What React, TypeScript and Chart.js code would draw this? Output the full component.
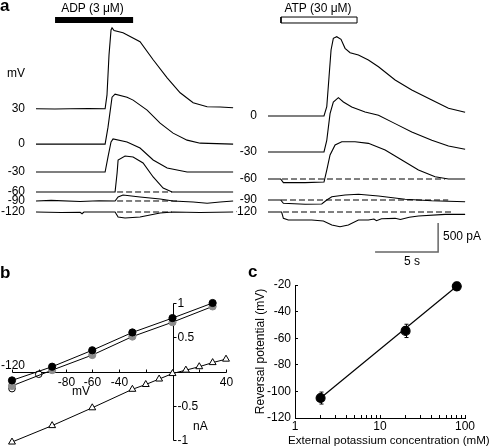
import React, { useEffect, useRef } from 'react';
import { Chart, registerables } from 'chart.js';

Chart.register(...registerables);

const FONT = '"Liberation Sans", Arial, Helvetica, sans-serif';
Chart.defaults.font.family = FONT;
Chart.defaults.font.size = 12;
Chart.defaults.color = '#000';

// ================= Panel a: current traces =================
const traceTimeMax = 15.7; // s shown in each trace panel
const tracePAMin = -414; // pA, display range of the stacked traces
const tracePAMax = 3724;

// ADP (3 uM) — [time (s), current (pA) relative to baseline]
const adpHolding = ['30', '0', '-30', '-60', '-90', '-120'];
const adpOffsets = [2090, 1480, 1000, 655, 500, 310];
const adp30 = [[0, 0], [1.5, -5], [2.7, 0], [4.2, 5], [5.48, 0], [5.63, 240], [5.79, 930], [5.95, 1360], [6.03, 1396], [6.19, 1350], [6.9, 1310], [8.25, 1155], [9.29, 845], [10.4, 534], [11.43, 276], [12.46, 103], [13.57, 34], [14.6, 30], [15.63, 17]];
const adp0 = [[0, 0], [5.48, 0], [5.71, 293], [6.03, 810], [6.27, 862], [7.22, 810], [7.7, 759], [8.81, 586], [9.84, 362], [10.87, 190], [11.98, 69], [13.02, 17], [15.63, 0]];
const adpM30 = [[0, 0], [5.48, 0], [5.71, 259], [5.95, 517], [6.11, 569], [7.22, 517], [8.25, 414], [9.29, 207], [10.4, 69], [11.98, 0], [15.63, 0]];
const adpM60 = [[0, 0], [6.27, 0], [6.43, 328], [6.51, 552], [7.06, 621], [7.7, 603], [8.49, 500], [9.29, 259], [10.08, 69], [10.79, 0], [15.63, 0]];
const adpM90 = [[0, 0], [1.2, 10], [3.5, -10], [5.0, 5], [6.27, 0], [6.51, 69], [6.9, 103], [8.25, 69], [9.84, 34], [10.87, 0], [12.46, -17], [13.57, -40], [14.6, -17], [15.63, 0]];
const adpM120 = [[0, 0], [2.0, -8], [3.5, -5], [3.65, -30], [3.8, 0], [6.27, 0], [6.51, -86], [7.06, -103], [8.25, -86], [9.84, -17], [10.87, 0], [13.0, -8], [15.63, 0]];
const adpTraces = [adp30, adp0, adpM30, adpM60, adpM90, adpM120];
const adpDashIdx = [3, 4, 5];
const adpDashFrom = [6.43, 6.43, 6.43];
const adpDashTo = [10.79, 11.43, 10.79];
const adpApplication = [1.51, 7.7]; // s

// ATP (30 uM)
const atpHolding = ['0', '-30', '-60', '-90', '-120'];
const atpOffsets = [1965, 1345, 879, 517, 310];
const atp0 = [[0, 0], [4.44, 0], [4.66, 160], [4.84, 678], [5.0, 1138], [5.18, 1340], [5.45, 1367], [5.79, 1322], [6.11, 1167], [6.51, 1091], [7.17, 1052], [7.96, 965], [8.76, 850], [10.08, 621], [11.4, 448], [12.99, 276], [14.31, 133], [15.63, 64]];
const atpM30 = [[0, 0], [4.44, 0], [4.66, 201], [4.92, 661], [5.18, 862], [5.58, 937], [5.98, 862], [6.64, 776], [7.7, 690], [8.76, 632], [10.08, 489], [11.4, 345], [12.99, 201], [14.31, 103], [15.63, 46]];
const atpM60 = [[0, 0], [1.0, 0], [1.22, -63], [2.94, -63], [4.44, -52], [4.66, 155], [4.92, 414], [5.32, 586], [5.85, 643], [6.9, 643], [7.96, 615], [9.29, 500], [10.61, 328], [11.93, 155], [13.25, 40], [14.31, 0], [15.63, 0]];
const atpM90 = [[0, 0], [1.0, 0], [1.22, -57], [2.94, -74], [4.26, -69], [4.66, 0], [5.06, 57], [6.11, 86], [7.17, 98], [8.76, 69], [10.87, 12], [12.99, -12], [15.63, -29]];
const atpM120 = [[0, 0], [1.08, 0], [1.22, -109], [1.61, -138], [3.47, -138], [4.39, -155], [5.06, -224], [5.71, -253], [6.37, -224], [7.17, -138], [7.96, -138], [8.4, -120], [8.6, -150], [9.0, -115], [10.08, -109], [10.5, -130], [11.2, -90], [11.93, -69], [14.05, -40], [15.63, -40]];
const atpTraces = [atp0, atpM30, atpM60, atpM90, atpM120];
const atpDashIdx = [2, 3, 4];
const atpDashFrom = [1.11, 1.03, 1.19];
const atpDashTo = [14.05, 14.29, 14.52];
const atpApplication = [1.03, 7.06]; // s

const applicationBarPA = [3569, 3672];
const scaleBarSeconds = 5;
const scaleBarPA = 500;
const scaleBarOrigin = [8.49, -379];

// ================= Panel b: I–V relations =================
const ivVm = [-120, -90, -60, -30, 0, 30];
const ivBlack = [-0.13, 0.07, 0.31, 0.57, 0.78, 1.0];
const ivGray = [-0.21, 0.02, 0.24, 0.51, 0.72, 0.95];
const ivOpenVm = [-120, -100];
const ivOpen = [-0.25, -0.04];
const ivTriVm = [-120, -90, -60, -30, -20, -10, 0, 10, 20, 30, 40];
const ivTri = [-1.03, -0.79, -0.53, -0.26, -0.19, -0.11, -0.03, 0.02, 0.07, 0.13, 0.18];
const ivXTicks = [-120, -100, -80, -60, -40, -20, 20, 40];
const ivXLabels = [-80, -60, -40, 40];
const ivXLabelsAbove = [-120];
const ivYTicks = [-1, -0.5, 0.5, 1];
const ivYLabels = ['-1', '-0.5', '0.5', '1'];

// ================= Panel c: reversal potential =================
const revK = [2, 20, 80]; // mM
const revE = [-105, -54.5, -21]; // mV
const revErr = [4.5, 5, 3];
const revFitK = [2, 80];
const revFitE = [-105, -21];
const revXTicks = [1, 2, 3, 4, 5, 6, 7, 8, 9, 10, 20, 30, 40, 50, 60, 70, 80, 90, 100];
const revXLabels = [1, 10, 100];

// ---------------------------------------------------------------
const baseOptions = {
  animation: false,
  responsive: false,
  maintainAspectRatio: false,
  events: [],
  plugins: { legend: { display: false }, tooltip: { enabled: false } },
};

function line(data: any[], extra: any = {}) {
  return {
    data,
    borderColor: '#000',
    borderWidth: 1.1,
    pointRadius: 0,
    pointHoverRadius: 0,
    tension: 0,
    fill: false,
    ...extra,
  };
}

function buildTraceConfig(p: any) {
  const datasets: any[] = [];
  p.traces.forEach((tr: number[][], i: number) =>
    datasets.push(line(tr.map(([t, v]) => ({ x: t, y: p.offsets[i] + v }))))
  );
  p.dashIdx.forEach((k: number, j: number) =>
    datasets.push(
      line(
        [
          { x: p.dashFrom[j], y: p.offsets[k] },
          { x: p.dashTo[j], y: p.offsets[k] },
        ],
        { borderDash: [6, 3], borderWidth: 1 }
      )
    )
  );
  const [b0, b1] = applicationBarPA;
  const [a0, a1] = p.app;
  if (p.filled) {
    const mid = (b0 + b1) / 2;
    datasets.push(line([{ x: a0, y: mid }, { x: a1, y: mid }], { borderWidth: 6, borderCapStyle: 'butt' }));
  } else {
    datasets.push(
      line(
        [
          { x: a0, y: b0 },
          { x: a1, y: b0 },
          { x: a1, y: b1 },
          { x: a0, y: b1 },
          { x: a0, y: b0 },
        ],
        { borderWidth: 1, borderJoinStyle: 'miter' }
      )
    );
  }
  if (p.scaleBar) {
    const [t0, y0] = scaleBarOrigin;
    datasets.push(
      line(
        [
          { x: t0, y: y0 },
          { x: t0 + scaleBarSeconds, y: y0 },
          { x: t0 + scaleBarSeconds, y: y0 + scaleBarPA },
        ],
        { borderColor: '#666', borderWidth: 1.5, borderJoinStyle: 'miter' }
      )
    );
  }
  return {
    type: 'line',
    data: { datasets },
    options: {
      ...baseOptions,
      layout: { padding: { left: 0, right: 2, top: 0, bottom: 0 } },
      scales: {
        x: { type: 'linear', display: false, min: 0, max: traceTimeMax },
        y: {
          type: 'linear',
          min: tracePAMin,
          max: tracePAMax,
          grid: { display: false },
          border: { display: false },
          ticks: {
            autoSkip: false,
            padding: 3,
            color: '#000',
            font: { size: 12 },
            callback: (_v: any, i: number) => p.holding[i],
          },
          afterBuildTicks: (s: any) => {
            s.ticks = p.offsets.map((v: number) => ({ value: v }));
          },
          afterFit: (s: any) => {
            s.width = p.axisWidth;
            s.paddingTop = 0;
            s.paddingBottom = 0;
          },
        },
      },
    },
  };
}

const ivAxesPlugin = {
  id: 'ivAxes',
  beforeDatasetsDraw(chart: any) {
    const { ctx } = chart;
    const xs = chart.scales.x;
    const ys = chart.scales.y;
    const px = (v: number) => Math.round(xs.getPixelForValue(v)) + 0.5;
    const py = (v: number) => Math.round(ys.getPixelForValue(v)) + 0.5;
    const x0 = px(0);
    const y0 = py(0);
    ctx.save();
    ctx.strokeStyle = '#000';
    ctx.lineWidth = 1;
    ctx.beginPath();
    ctx.moveTo(px(xs.min), y0);
    ctx.lineTo(px(xs.max), y0);
    ctx.moveTo(x0, py(ys.max));
    ctx.lineTo(x0, py(ys.min));
    ivXTicks.forEach((v) => {
      ctx.moveTo(px(v), y0);
      ctx.lineTo(px(v), y0 - 3);
    });
    ivYTicks.forEach((v) => {
      ctx.moveTo(x0, py(v));
      ctx.lineTo(x0 + 3, py(v));
    });
    ctx.stroke();
    ctx.fillStyle = '#000';
    ctx.font = `12px ${FONT}`;
    ctx.textAlign = 'center';
    ctx.textBaseline = 'middle';
    ivXLabels.forEach((v) => ctx.fillText(String(v), px(v), y0 + 10));
    ivXLabelsAbove.forEach((v) => ctx.fillText(String(v), px(v) + 0.5, y0 - 7));
    ctx.textAlign = 'left';
    ivYTicks.forEach((v, i) => ctx.fillText(ivYLabels[i], x0 + 4, py(v)));
    ctx.restore();
  },
};

function buildIVConfig() {
  const pts = (xs: number[], ys: number[]) => xs.map((x, i) => ({ x, y: ys[i] }));
  return {
    type: 'line',
    data: {
      datasets: [
        line(pts(ivVm, ivBlack), { pointRadius: 3.6, pointBackgroundColor: '#000', pointBorderColor: '#000', pointBorderWidth: 1, borderWidth: 1, clip: false }),
        line(pts(ivVm, ivGray), { pointRadius: 3.6, pointBackgroundColor: '#8c8c8c', pointBorderColor: '#8c8c8c', pointBorderWidth: 1, borderWidth: 1, clip: false }),
        line(pts(ivOpenVm, ivOpen), { showLine: false, pointRadius: 3.3, pointBackgroundColor: '#fff', pointBorderColor: '#000', pointBorderWidth: 1, clip: false }),
        line(pts(ivTriVm, ivTri), { pointStyle: 'triangle', pointRadius: 4, pointBackgroundColor: '#fff', pointBorderColor: '#000', pointBorderWidth: 1, borderWidth: 1, clip: false }),
      ],
    },
    options: {
      ...baseOptions,
      layout: { padding: { left: 12, right: 14, top: 13, bottom: 8 } },
      scales: {
        x: { type: 'linear', display: false, min: -120, max: 40 },
        y: { type: 'linear', display: false, min: -1, max: 1 },
      },
    },
    plugins: [ivAxesPlugin],
  };
}

const errorBarPlugin = {
  id: 'errorBars',
  beforeDatasetsDraw(chart: any) {
    const { ctx } = chart;
    const xs = chart.scales.x;
    const ys = chart.scales.y;
    ctx.save();
    ctx.strokeStyle = '#000';
    ctx.lineWidth = 1;
    ctx.beginPath();
    revK.forEach((k, i) => {
      const x = Math.round(xs.getPixelForValue(k)) + 0.5;
      const yt = ys.getPixelForValue(revE[i] + revErr[i]);
      const yb = ys.getPixelForValue(revE[i] - revErr[i]);
      ctx.moveTo(x, yt);
      ctx.lineTo(x, yb);
      ctx.moveTo(x - 2, yt);
      ctx.lineTo(x + 2, yt);
      ctx.moveTo(x - 2, yb);
      ctx.lineTo(x + 2, yb);
    });
    ctx.stroke();
    ctx.restore();
  },
};

function buildRevConfig() {
  return {
    type: 'line',
    data: {
      datasets: [
        line(revK.map((k, i) => ({ x: k, y: revE[i] })), { showLine: false, pointRadius: 4.5, pointBackgroundColor: '#000', pointBorderColor: '#000', clip: false }),
        line(revFitK.map((k, i) => ({ x: k, y: revFitE[i] })), { borderWidth: 1.2 }),
      ],
    },
    options: {
      ...baseOptions,
      layout: { padding: { left: 0, right: 30, top: 15, bottom: 0 } },
      scales: {
        x: {
          type: 'logarithmic',
          min: 1,
          max: 100,
          afterBuildTicks: (s: any) => {
            s.ticks = revXTicks.map((v) => ({ value: v }));
          },
          ticks: {
            autoSkip: false,
            maxRotation: 0,
            padding: 4,
            color: '#000',
            font: { size: 12 },
            callback: (v: any) => (revXLabels.includes(Number(v)) ? String(v) : ''),
          },
          grid: { display: true, drawOnChartArea: false, drawTicks: true, tickLength: -3, color: '#000' },
          border: { display: true, color: '#000', width: 1 },
          afterFit: (s: any) => {
            s.height = 30;
            s.paddingLeft = 0;
            s.paddingRight = 0;
          },
        },
        y: {
          type: 'linear',
          min: -120,
          max: -20,
          ticks: { stepSize: 20, padding: 7, color: '#000', font: { size: 12 } },
          grid: { display: true, drawOnChartArea: false, drawTicks: true, tickLength: -3, color: '#000' },
          border: { display: true, color: '#000', width: 1 },
          title: { display: true, text: 'Reversal potential (mV)', color: '#000', font: { size: 12 }, padding: { top: 8, bottom: 0 } },
          afterFit: (s: any) => {
            s.width = 50;
            s.paddingTop = 0;
            s.paddingBottom = 0;
          },
        },
      },
    },
    plugins: [errorBarPlugin],
  };
}

function ChartCanvas({ left, top, width, height, build }: any) {
  const ref = useRef<HTMLCanvasElement>(null);
  useEffect(() => {
    const chart = new Chart(ref.current as HTMLCanvasElement, build() as any);
    return () => chart.destroy();
  }, []);
  return (
    <canvas
      ref={ref}
      width={width}
      height={height}
      style={{ position: 'absolute', left, top, width, height, display: 'block' }}
    />
  );
}

function Label({ text, left, top, size = 12, bold = false, center = false }: any) {
  const style: any = {
    position: 'absolute',
    top,
    fontSize: size,
    lineHeight: `${size}px`,
    fontWeight: bold ? 'bold' : 'normal',
    whiteSpace: 'nowrap',
  };
  if (center) {
    style.left = left - 100;
    style.width = 200;
    style.textAlign = 'center';
  } else {
    style.left = left;
  }
  return <div style={style}>{text}</div>;
}

export default function App() {
  return (
    <div
      style={{
        position: 'absolute',
        left: 0,
        top: 0,
        width: 495,
        height: 448,
        background: '#fff',
        overflow: 'hidden',
        fontFamily: FONT,
        color: '#000',
      }}
    >
      <ChartCanvas
        left={0}
        top={14}
        width={236}
        height={240}
        build={() =>
          buildTraceConfig({
            traces: adpTraces,
            offsets: adpOffsets,
            holding: adpHolding,
            dashIdx: adpDashIdx,
            dashFrom: adpDashFrom,
            dashTo: adpDashTo,
            app: adpApplication,
            filled: true,
            axisWidth: 36,
            scaleBar: false,
          })
        }
      />
      <ChartCanvas
        left={236}
        top={14}
        width={232}
        height={240}
        build={() =>
          buildTraceConfig({
            traces: atpTraces,
            offsets: atpOffsets,
            holding: atpHolding,
            dashIdx: atpDashIdx,
            dashFrom: atpDashFrom,
            dashTo: atpDashTo,
            app: atpApplication,
            filled: false,
            axisWidth: 32,
            scaleBar: true,
          })
        }
      />
      <ChartCanvas left={0} top={290} width={240} height={158} build={buildIVConfig} />
      <ChartCanvas left={245} top={270} width={250} height={178} build={buildRevConfig} />

      <Label text="a" left={0} top={-3} size={17} bold />
      <Label text="ADP (3 μM)" left={92.5} top={1.7} center />
      <Label text="ATP (30 μM)" left={318} top={1.7} center />
      <Label text="mV" left={7} top={67} />
      <Label text="500 pA" left={443} top={230} />
      <Label text="5 s" left={412} top={255} center />

      <Label text="b" left={0} top={264} size={17} bold />
      <Label text="mV" left={72} top={385} />
      <Label text="nA" left={193} top={420} />

      <Label text="c" left={248} top={263} size={17} bold />
      <Label text="External potassium concentration (mM)" left={288} top={433.5} size={11.6} />
    </div>
  );
}
